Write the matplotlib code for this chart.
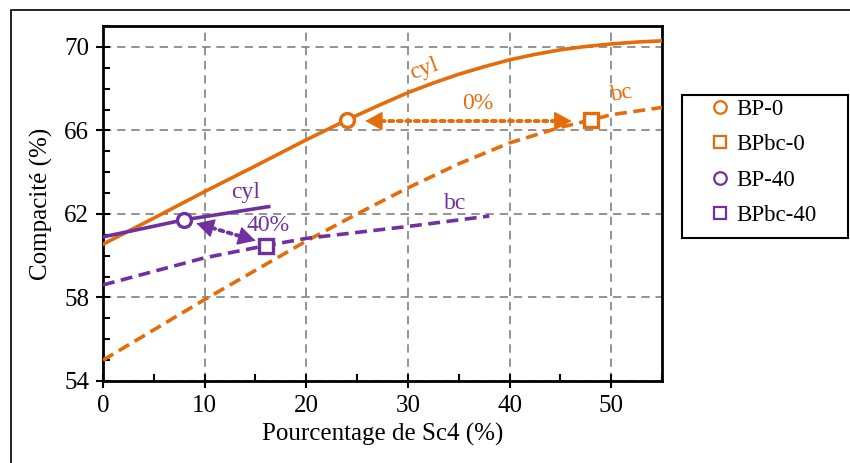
import matplotlib
matplotlib.use("Agg")
import matplotlib.pyplot as plt
from matplotlib.patches import Rectangle
from matplotlib.lines import Line2D
from matplotlib.ticker import MultipleLocator

plt.rcParams['font.family'] = ['Liberation Serif', 'DejaVu Serif']

ORANGE = '#E46C0A'
PURPLE = '#7030A0'

# courbes
x_cyl0 = [0, 5, 10, 15, 20, 24, 27, 30, 32.5, 35, 37.5, 40, 42.5, 45, 47.5, 50, 52.5, 55]
y_cyl0 = [60.55, 61.8, 63.07, 64.3, 65.55, 66.5, 67.17, 67.81, 68.27, 68.69, 69.05,
          69.38, 69.64, 69.86, 70.02, 70.14, 70.23, 70.29]
x_bc0 = [0, 5, 10, 15, 20, 25, 30, 35, 40, 45, 48, 50, 55]
y_bc0 = [55.0, 56.45, 57.9, 59.3, 60.7, 62.0, 63.25, 64.4, 65.4, 66.15, 66.5, 66.75, 67.1]
x_cyl40 = [0, 8, 16.3]
y_cyl40 = [60.9, 61.72, 62.35]
x_bc40 = [0, 10, 16, 20, 30, 38]
y_bc40 = [58.6, 59.9, 60.48, 60.83, 61.4, 61.9]

# points
pt_labels = ['BP-0', 'BPbc-0', 'BP-40', 'BPbc-40']
pt_x = [24, 48, 8, 16]
pt_y = [66.5, 66.5, 61.72, 60.48]
pt_marker = ['o', 's', 'o', 's']
pt_color = [ORANGE, ORANGE, PURPLE, PURPLE]

# flèches (début, fin)
arr0 = [(25.8, 66.45), (46.1, 66.45)]
arr40 = [(9.2, 61.55), (15.0, 60.72)]

fig = plt.figure(figsize=(8.5, 4.63), dpi=100)
ax = fig.add_axes([103 / 850, 1 - 381 / 463, (662 - 103) / 850, (381 - 26) / 463])

dash = (0, (3.3, 1.8))
ax.plot(x_cyl0, y_cyl0, color=ORANGE, lw=2.6, zorder=3)
ax.plot(x_bc0, y_bc0, color=ORANGE, lw=2.6, ls=dash, zorder=3)
ax.plot(x_cyl40, y_cyl40, color=PURPLE, lw=2.6, zorder=3)
ax.plot(x_bc40, y_bc40, color=PURPLE, lw=2.6, ls=dash, zorder=3)

handles = []
for lab, xx, yy, m, c in zip(pt_labels, pt_x, pt_y, pt_marker, pt_color):
    ax.plot([xx], [yy], ls='none', marker=m, ms=10, mfc='white', mec=c, mew=2.4, zorder=5)
    handles.append(Line2D([], [], ls='none', marker=m, ms=9, mfc='white', mec=c,
                          mew=1.6, label=lab))


def double_arrow(a, b, color):
    # ligne pointillée + deux têtes pleines
    ax.annotate('', xy=b, xytext=a,
                arrowprops=dict(arrowstyle='-', color=color, lw=2.8, ls=(0, (1, 1.2)),
                                shrinkA=5, shrinkB=5), zorder=4)
    for tip, tail in [(a, b), (b, a)]:
        ax.annotate('', xy=tip, xytext=(tip[0] + (tail[0] - tip[0]) * 0.02,
                                        tip[1] + (tail[1] - tip[1]) * 0.02),
                    arrowprops=dict(arrowstyle='-|>,head_length=0.55,head_width=0.3',
                                    color=color, lw=1, mutation_scale=20,
                                    shrinkA=0, shrinkB=0), zorder=4)


double_arrow(*arr0, ORANGE)
double_arrow(*arr40, PURPLE)

ax.text(31.6, 68.95, 'cyl', color=ORANGE, fontsize=17, rotation=20, ha='center', va='center')
ax.text(36.9, 67.3, '0%', color=ORANGE, fontsize=17, ha='center', va='center')
ax.text(51.1, 67.75, 'bc', color=ORANGE, fontsize=17, rotation=10, ha='center', va='center')
ax.text(14.0, 63.05, 'cyl', color=PURPLE, fontsize=17, ha='center', va='center')
ax.text(16.2, 61.45, '40%', color=PURPLE, fontsize=17, ha='center', va='center')
ax.text(34.6, 62.5, 'bc', color=PURPLE, fontsize=17, ha='center', va='center')

ax.set_xlim(0, 55)
ax.set_ylim(54, 71)
ax.set_yticks([54, 58, 62, 66, 70])
ax.xaxis.set_major_locator(MultipleLocator(10))
ax.xaxis.set_minor_locator(MultipleLocator(5))
ax.yaxis.set_minor_locator(MultipleLocator(1))
ax.tick_params(which='major', direction='inout', length=10, width=1.5, labelsize=18, pad=5)
ax.tick_params(which='minor', direction='in', length=5, width=1.5)
ax.grid(True, which='major', color='#808080', ls=(0, (5, 3.5)), lw=1.2)
ax.set_axisbelow(True)
for side in ['left', 'bottom', 'top', 'right']:
    ax.spines[side].set_linewidth(2)

ax.set_xlabel('Pourcentage de Sc4 (%)', fontsize=18, labelpad=4)
ax.set_ylabel('Compacité (%)', fontsize=18, labelpad=8)

# cadre de la légende
fig.patches.append(Rectangle((682 / 850, 1 - 238 / 463), 166 / 850, 143 / 463,
                             transform=fig.transFigure, fill=False, edgecolor='black', lw=1.5))
fig.legend(handles=handles, loc='upper left', bbox_to_anchor=(712 / 850, 1 - 99 / 463),
           fontsize=16.5, frameon=False, borderaxespad=0, borderpad=0,
           handlelength=0.7, handletextpad=0.35, labelspacing=0.62)

fig.patches.append(Rectangle((11 / 850, -0.05), 1.1, 1 - 10 / 463 + 0.05, transform=fig.transFigure,
                             fill=False, edgecolor='black', lw=1.2))

fig.savefig('out.png', dpi=100)
